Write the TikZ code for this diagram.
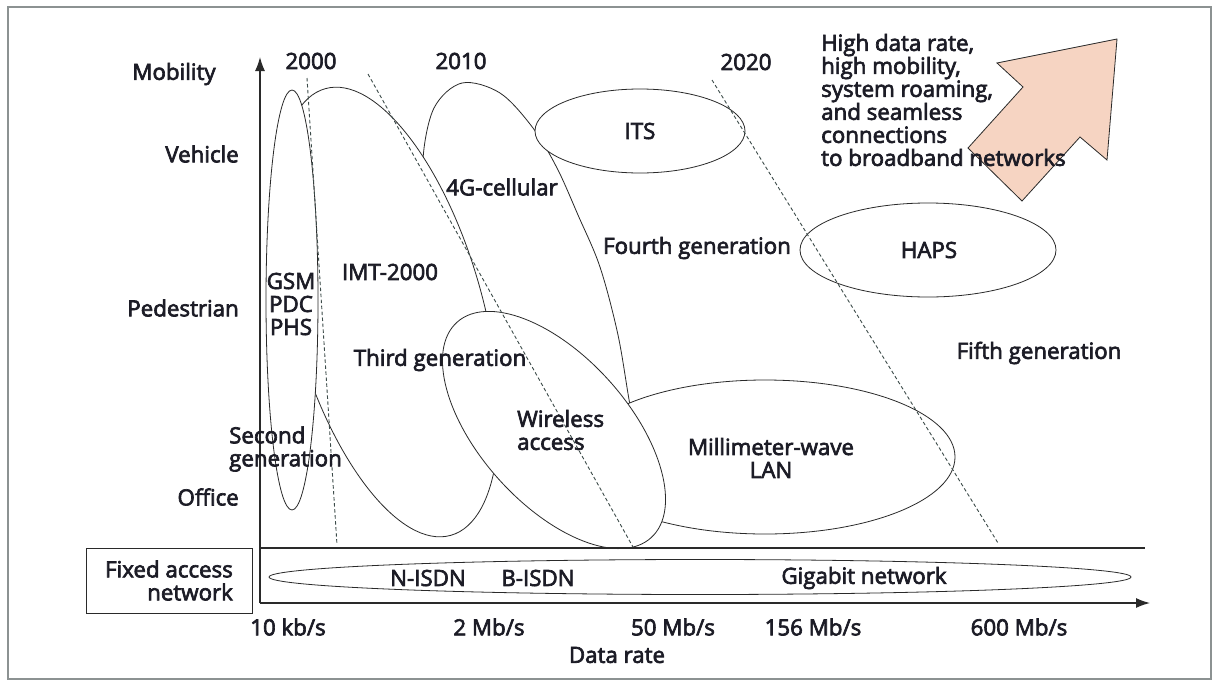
\documentclass[tikz,border=0pt]{standalone}
\usepackage{fontspec}
\setmainfont{Open Sans}[FakeBold=3]
\usetikzlibrary{arrows.meta}
\definecolor{ink}{HTML}{2A2A2A}
\definecolor{txt}{HTML}{1C1C26}
\definecolor{framegray}{HTML}{8C9292}
\definecolor{eraline}{HTML}{3C4B49}
\definecolor{peach}{HTML}{F6D4C2}
\begin{document}
\begin{tikzpicture}[x=1pt,y=-1pt]
\tikzset{
  zone/.style={draw=ink, line width=0.8pt, fill=white},
  era/.style={draw=eraline, line width=0.9pt, dash pattern=on 3.5pt off 2.5pt},
  axis/.style={draw=ink, line width=1.3pt},
  lbl/.style={text=txt, inner sep=0pt, font=\fontsize{22.3}{23}\selectfont},
  tip/.style={-{Latex[length=14pt,width=10pt]}}
}
\useasboundingbox (0,0) rectangle (1215,683);
\fill[white] (0,0) rectangle (1215,683);
\draw[framegray, line width=1.6pt] (8,7) rectangle (1211,679);

% coverage zones, back to front
% 4G cellular: its lower part is covered by the zones drawn after it
\path[zone] plot[smooth cycle, tension=0.55] coordinates {
  (462,83) (500,93) (533,128) (557,168) (578,215) (600,267) (618,335) (630,405)
  (640,450) (600,500) (520,440) (465,330) (430,205) (423,160) (434,108)};
\path[zone] (640,131) ellipse [x radius=105pt, y radius=42pt];                                 % ITS
\path[zone, rotate around={-74.3:(388,312)}] (388,312) ellipse [x radius=232pt, y radius=95pt]; % IMT-2000
\path[zone] (292,300) ellipse [x radius=26pt, y radius=210pt];                                 % GSM/PDC/PHS
\path[zone] (765,457) ellipse [x radius=190pt, y radius=77pt];                                 % millimeter-wave LAN
\path[zone, rotate around={-48:(554,430)}] (554,430) ellipse [x radius=145pt, y radius=74pt];  % wireless access
\path[zone] (928,250) ellipse [x radius=128pt, y radius=47pt];                                 % HAPS
\path[zone] (700,577) ellipse [x radius=431pt, y radius=17.5pt];                               % fixed networks

% axes
\coordinate (origin) at (260,603);
\coordinate (ytip) at (260,57);
\coordinate (xtip) at (1150,603);
\coordinate (baseL) at (260,548);
\coordinate (baseR) at (1145,548);
\draw[axis, tip] (origin) -- (ytip);
\draw[axis, tip] (origin) -- (xtip);
\draw[axis] (baseL) -- (baseR);

% generation boundaries
\coordinate (g2000a) at (307,78);  \coordinate (g2000b) at (337,545);
\coordinate (g2010a) at (368,74);  \coordinate (g2010b) at (633,547);
\coordinate (g2020a) at (712,80);  \coordinate (g2020b) at (998,543);
\draw[era] (g2000a) -- (g2000b);
\draw[era] (g2010a) -- (g2010b);
\draw[era] (g2020a) -- (g2020b);

% trend arrow
\filldraw[fill=peach, draw=ink, line width=0.8pt]
  (1117,39) -- (997,63) -- (1023,87) -- (968,148) -- (1022,201) -- (1080,137) -- (1107,160) -- cycle;

% fixed access box
\node[draw=ink, line width=1pt, minimum width=166pt, minimum height=65pt, inner sep=0pt] (fixedbox) at (169,580.5) {};
\node[lbl, align=right] (fixedtxt) at (169,580.5) {Fixed access\\network};

% mobility axis labels
\node[lbl] (mob) at (174,74) {Mobility};
\node[lbl, anchor=east] (veh) at (239,154) {Vehicle};
\node[lbl, anchor=east] (ped) at (239,308) {Pedestrian};
\node[lbl, anchor=east] (off) at (239,497) {Office};

% years
\node[lbl] (y2000) at (311,61) {2000};
\node[lbl] (y2010) at (461,61) {2010};
\node[lbl] (y2020) at (746,62) {2020};

% zone labels
\node[lbl, align=center] (gsm) at (291,304) {GSM\\PDC\\PHS};
\node[lbl] (imt) at (390,272) {IMT-2000};
\node[lbl] (cell4g) at (502,187) {4G-cellular};
\node[lbl] (its) at (640,131) {ITS};
\node[lbl] (fourth) at (697,248) {Fourth generation};
\node[lbl] (haps) at (929,250) {HAPS};
\node[lbl] (third) at (440,360) {Third generation};
\node[lbl, align=left, anchor=west] (wacc) at (517,430) {Wireless\\access};
\node[lbl, align=left, anchor=west] (second) at (229,449) {Second\\generation};
\node[lbl, align=center] (mmw) at (771,458) {Millimeter-wave\\LAN};
\node[lbl] (fifth) at (1039,353) {Fifth generation};
\node[lbl, align=left, anchor=west] (trend) at (821,100) {High data rate,\\high mobility,\\system roaming,\\and seamless\\connections\\to broadband networks};

% fixed network labels
\node[lbl] (nisdn) at (428,578) {N-ISDN};
\node[lbl] (bisdn) at (538,578) {B-ISDN};
\node[lbl] (giga) at (864,578) {Gigabit network};

% data-rate axis labels
\node[lbl] (r10k) at (288,627) {10 kb/s};
\node[lbl] (r2m) at (489,627) {2 Mb/s};
\node[lbl] (r50m) at (673,627) {50 Mb/s};
\node[lbl] (r156m) at (813,627) {156 Mb/s};
\node[lbl] (r600m) at (1019,627) {600 Mb/s};
\node[lbl] (rate) at (617,655) {Data rate};
\end{tikzpicture}
\end{document}
